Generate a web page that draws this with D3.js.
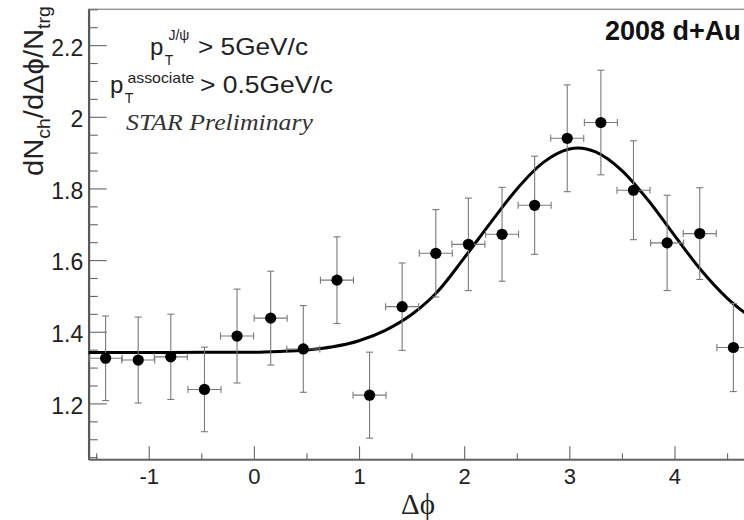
<!DOCTYPE html>
<html><head><meta charset="utf-8">
<script src="https://cdn.jsdelivr.net/npm/d3@7/dist/d3.min.js"></script>
<style>body{margin:0;background:#fff}svg{display:block}</style>
</head><body>
<svg id="chart" width="744" height="520"></svg>
<script>
// ---- data ----
const binCenters   = [-1.41, -1.10, -0.79, -0.47, -0.16, 0.16, 0.47, 0.79, 1.10, 1.41,
                       1.73, 2.04, 2.36, 2.67, 2.98, 3.30, 3.61, 3.93, 4.24, 4.56];
const binHalfWidths = [0.157, 0.157, 0.157, 0.157, 0.157, 0.157, 0.157, 0.157, 0.157, 0.157,
                       0.157, 0.157, 0.157, 0.157, 0.157, 0.157, 0.157, 0.157, 0.157, 0.157];
const yields       = [1.326, 1.321, 1.330, 1.239, 1.388, 1.438, 1.352, 1.544, 1.223, 1.470,
                      1.619, 1.644, 1.672, 1.753, 1.940, 1.984, 1.795, 1.648, 1.674, 1.356];
const yieldErrors  = [0.118, 0.120, 0.119, 0.118, 0.131, 0.131, 0.121, 0.121, 0.120, 0.122,
                      0.122, 0.129, 0.131, 0.137, 0.149, 0.146, 0.138, 0.133, 0.128, 0.123];
// fit curve
const fitX = [-1.571, -1.0, -0.5, 0.0, 0.25, 0.5, 0.75, 1.0, 1.25, 1.5, 1.75, 2.0, 2.25, 2.5,
              2.75, 3.0, 3.08, 3.25, 3.5, 3.75, 4.0, 4.25, 4.5, 4.712];
const fitY = [1.342, 1.342, 1.343, 1.343, 1.345, 1.349, 1.358, 1.375, 1.404, 1.448, 1.513, 1.606,
              1.704, 1.798, 1.872, 1.910, 1.913, 1.902, 1.850, 1.767, 1.669, 1.573, 1.494, 1.443];
const xTickValues = [-1, 0, 1, 2, 3, 4];
const xMinorTicks = [-1.5, -0.5, 0.5, 1.5, 2.5, 3.5, 4.5];
const yTickValues = [1.2, 1.4, 1.6, 1.8, 2.0, 2.2];
const yTickLabels = ["1.2", "1.4", "1.6", "1.8", "2", "2.2"];
const yMinorTicks = [1.05, 1.1, 1.15, 1.25, 1.3, 1.35, 1.45, 1.5, 1.55, 1.65, 1.7, 1.75,
                     1.85, 1.9, 1.95, 2.05, 2.1, 2.15, 2.25, 2.3];

// ---- layout ----
const svg = d3.select("#chart");
svg.append("rect").attr("width", 744).attr("height", 520).attr("fill", "#fff");
const X0 = 88.7, X1 = 749.4, Y0 = 459.3, Y1 = 9.3;
const x = d3.scaleLinear().domain([-Math.PI / 2, 3 * Math.PI / 2]).range([X0, X1]);
const y = d3.scaleLinear().domain([1.044, 2.3]).range([Y0, Y1]);

// frame
svg.append("rect").attr("x", X0).attr("y", Y1).attr("width", X1 - X0).attr("height", Y0 - Y1)
  .attr("fill", "none").attr("stroke", "#9a9a9a").attr("stroke-width", 1.5);

const fontSans = "'Liberation Sans', Arial, Helvetica, sans-serif";
const fontSerif = "'Liberation Serif', 'Times New Roman', serif";

// y axis
const yAxisMajor = d3.axisLeft(y).tickValues(yTickValues)
  .tickFormat((d, i) => yTickLabels[i]).tickSize(-18).tickSizeOuter(0).tickPadding(5.5);
const gy = svg.append("g").attr("transform", `translate(${X0},0)`).call(yAxisMajor);
gy.selectAll("text").attr("font-family", fontSans).attr("font-size", 23).attr("fill", "#222")
  .attr("y", 2.5);
const gyMinor = svg.append("g").attr("transform", `translate(${X0},0)`)
  .call(d3.axisLeft(y).tickValues(yMinorTicks).tickFormat("").tickSize(-9).tickSizeOuter(0));
[gy, gyMinor].forEach(g => {
  g.select(".domain").attr("stroke", "#555").attr("stroke-width", 1.8);
  g.selectAll(".tick line").attr("stroke", "#666").attr("stroke-width", 1.1);
});

// x axis
const xAxisMajor = d3.axisBottom(x).tickValues(xTickValues).tickFormat(d3.format("d"))
  .tickSize(-13).tickSizeOuter(0).tickPadding(9.5);
const gx = svg.append("g").attr("transform", `translate(0,${Y0})`).call(xAxisMajor);
gx.selectAll("text").attr("font-family", fontSans).attr("font-size", 22).attr("fill", "#222")
  .text(d => d < 0 ? "-" + Math.abs(d) : d);
const gxMinor = svg.append("g").attr("transform", `translate(0,${Y0})`)
  .call(d3.axisBottom(x).tickValues(xMinorTicks).tickFormat("").tickSize(-6).tickSizeOuter(0));
[gx, gxMinor].forEach(g => {
  g.select(".domain").attr("stroke", "#666").attr("stroke-width", 1.5);
  g.selectAll(".tick line").attr("stroke", "#666").attr("stroke-width", 1.1);
});

// fit curve
const fitData = fitX.map((v, i) => [v, fitY[i]]);
svg.append("path").datum(fitData)
  .attr("d", d3.line().x(d => x(d[0])).y(d => y(d[1])).curve(d3.curveMonotoneX))
  .attr("fill", "none").attr("stroke", "#000").attr("stroke-width", 3);

// error bars + points
const pts = binCenters.map((c, i) => ({ c, hw: binHalfWidths[i], v: yields[i], e: yieldErrors[i] }));
const eb = svg.append("g").attr("stroke", "#7a7a7a").attr("stroke-width", 1.1).attr("fill", "none");
const cap = 3.5;
pts.forEach(p => {
  const px = x(p.c), py = y(p.v);
  const yt = y(p.v + p.e), yb = y(p.v - p.e);
  const xl = x(p.c - p.hw), xr = x(p.c + p.hw);
  eb.append("line").attr("x1", px).attr("x2", px).attr("y1", yt).attr("y2", yb);
  eb.append("line").attr("x1", px - cap).attr("x2", px + cap).attr("y1", yt).attr("y2", yt);
  eb.append("line").attr("x1", px - cap).attr("x2", px + cap).attr("y1", yb).attr("y2", yb);
  eb.append("line").attr("x1", xl).attr("x2", xr).attr("y1", py).attr("y2", py);
  eb.append("line").attr("x1", xl).attr("x2", xl).attr("y1", py - cap).attr("y2", py + cap);
  eb.append("line").attr("x1", xr).attr("x2", xr).attr("y1", py - cap).attr("y2", py + cap);
});
svg.append("g").selectAll("circle").data(pts).join("circle")
  .attr("cx", d => x(d.c)).attr("cy", d => y(d.v)).attr("r", 5.6).attr("fill", "#000");

// ---- texts ----
// y title (rotated)
const ytl = svg.append("text").attr("font-family", fontSans).attr("font-size", 27).attr("fill", "#222")
  .attr("transform", "translate(43,176) rotate(-90) scale(1.08,1)");
ytl.append("tspan").text("dN");
ytl.append("tspan").attr("font-size", 18).attr("dy", 7).text("ch");
ytl.append("tspan").attr("dy", -7).text("/dΔϕ/N");
ytl.append("tspan").attr("font-size", 18).attr("dy", 7).text("trg");

// x title
svg.append("text").attr("x", 401).attr("y", 514).attr("font-family", fontSerif)
  .attr("font-size", 29).attr("fill", "#222").text("Δϕ");

// 2008 d+Au
svg.append("text").attr("x", 605).attr("y", 39.5).attr("font-family", fontSans).attr("font-weight", "bold")
  .attr("font-size", 27).attr("fill", "#111").text("2008 d+Au");

// annotation: p_T with sub/superscripts
function ptLabel(xp, yb, sup, supLen, supDx, supDy) {
  const t = svg.append("text").attr("x", xp).attr("y", yb).attr("font-family", fontSans)
    .attr("fill", "#222").attr("font-size", 24);
  t.append("tspan").text("p");
  t.append("tspan").attr("font-size", 14).attr("dx", 1.5).attr("dy", 10).text("T");
  t.append("tspan").attr("font-size", 15).attr("dx", supDx).attr("dy", supDy).attr("textLength", supLen)
    .attr("lengthAdjust", "spacingAndGlyphs").text(sup);
}
ptLabel(150, 55, "J/ψ", 21, -5, -25);
svg.append("text").attr("x", 198).attr("y", 55).attr("font-family", fontSans).attr("fill", "#222")
  .attr("font-size", 24).attr("textLength", 110).attr("lengthAdjust", "spacingAndGlyphs").text("> 5GeV/c");
ptLabel(110, 93, "associate", 67, -6, -20);
svg.append("text").attr("x", 200).attr("y", 93).attr("font-family", fontSans).attr("fill", "#222")
  .attr("font-size", 24).attr("textLength", 133).attr("lengthAdjust", "spacingAndGlyphs").text("> 0.5GeV/c");
// STAR Preliminary
svg.append("text").attr("x", 126).attr("y", 130).attr("font-family", fontSerif)
  .attr("font-style", "italic").attr("font-size", 23).attr("fill", "#333").attr("textLength", 187)
  .attr("lengthAdjust", "spacingAndGlyphs").text("STAR Preliminary");
</script>
</body></html>
